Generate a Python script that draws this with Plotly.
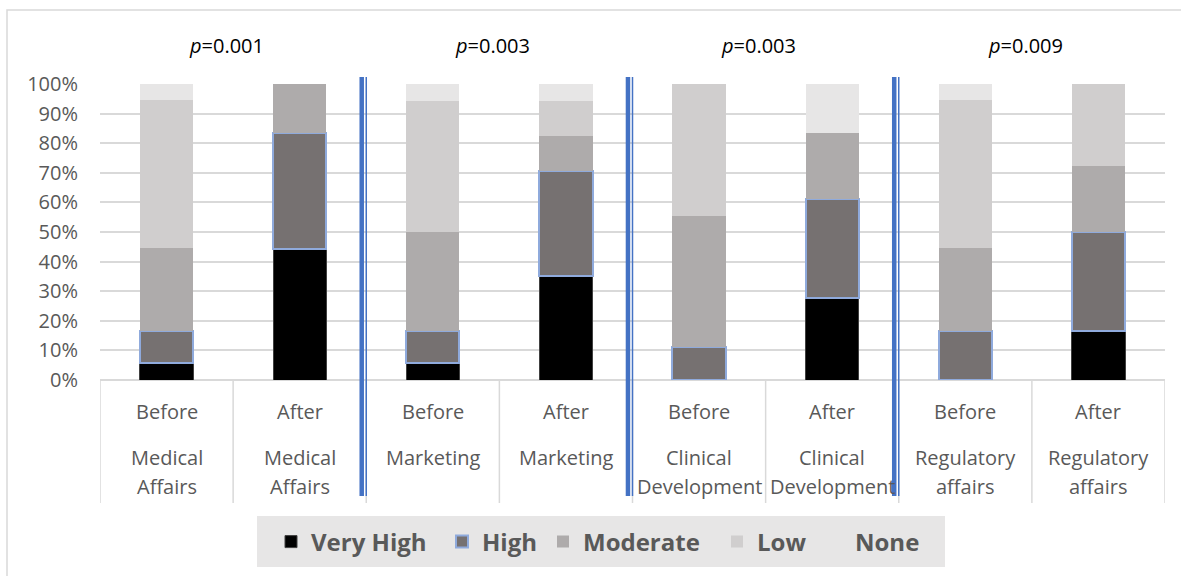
import plotly.graph_objects as go

# Survey responses (% of respondents) per department, before and after
departments = ["Medical Affairs", "Marketing", "Clinical Development", "Regulatory affairs"]
stages = ["Before", "After"]
p_values = ["0.001", "0.003", "0.003", "0.009"]

levels = ["Very High", "High", "Moderate", "Low", "None"]
very_high = [5.6, 44.4, 5.6, 35.3, 0.0, 27.8, 0.0, 16.7]
high = [11.1, 38.9, 11.1, 35.3, 11.1, 33.3, 16.7, 33.3]
moderate = [27.8, 16.7, 33.3, 11.8, 44.4, 22.2, 27.8, 22.2]
low = [50.0, 0.0, 44.4, 11.8, 44.4, 0.0, 50.0, 27.8]
none = [5.6, 0.0, 5.6, 5.9, 0.0, 16.7, 5.6, 0.0]

y_ticks = list(range(0, 101, 10))

W, H = 1181, 576
FONT = "Open Sans"
TEXT_GREY = "#595959"
GRID = "#D9D9D9"
BLUE = "#4472C4"

series = [very_high, high, moderate, low, none]
fills = ["#000000", "#767171", "#AEABAB", "#D0CECE", "#E7E6E6"]
edges = [("#404040", 1), ("#8FAADC", 2), ("#AEABAB", 0), ("#D0CECE", 0), ("#E7E6E6", 0)]
# legend slot width (px) reserved for each entry's label
entry_widths = [126, 56, 129, 53, 64]

n_cat = len(departments) * len(stages)
xs = list(range(n_cat))


def px_x(v):
    return v / W


def px_y(v):
    return 1 - v / H


fig = go.Figure()
for name, vals, col, (lc, lw), ew in zip(levels, series, fills, edges, entry_widths):
    fig.add_trace(go.Bar(
        x=xs, y=vals, name=name, width=0.4,
        marker=dict(color=col, line=dict(color=lc, width=lw)),
        legendwidth=ew,
        hoverinfo="skip",
    ))

plot_left, plot_right = 100, 1165
plot_top, plot_bottom = 84, 380

fig.update_layout(
    width=W, height=H,
    margin=dict(l=0, r=0, t=0, b=0, autoexpand=False),
    paper_bgcolor="white", plot_bgcolor="white",
    barmode="stack",
    font=dict(family=FONT, color=TEXT_GREY),
    xaxis=dict(
        domain=[px_x(plot_left), px_x(plot_right)],
        range=[-0.5, n_cat - 0.5],
        showticklabels=False, showgrid=False, zeroline=False,
        ticks="", fixedrange=True,
    ),
    yaxis=dict(
        domain=[px_y(plot_bottom), px_y(plot_top)],
        range=[0, 100],
        tickvals=y_ticks,
        ticktext=[f"{v}%" for v in y_ticks],
        tickfont=dict(family=FONT, size=20, color=TEXT_GREY),
        showgrid=True, gridcolor=GRID, gridwidth=1.5,
        zeroline=True, zerolinecolor=GRID, zerolinewidth=1.5,
        ticks="", ticklabelstandoff=21, fixedrange=True,
    ),
    legend=dict(
        orientation="h",
        x=px_x(271), xanchor="left",
        y=px_y(542), yanchor="middle",
        bgcolor="rgba(0,0,0,0)",
        font=dict(family=FONT, size=24, color=TEXT_GREY, weight="bold"),
        traceorder="normal",
        itemclick=False, itemdoubleclick=False,
    ),
    showlegend=True,
)

shapes = []
# outer chart frame
shapes.append(dict(type="rect", xref="paper", yref="paper",
                   x0=px_x(7), x1=px_x(W + 20), y0=px_y(H + 20), y1=px_y(10),
                   line=dict(color=GRID, width=1.5), fillcolor="rgba(0,0,0,0)",
                   layer="below"))
# legend background box
shapes.append(dict(type="rect", xref="paper", yref="paper",
                   x0=px_x(257), x1=px_x(945), y0=px_y(567), y1=px_y(516),
                   line=dict(width=0), fillcolor="#E7E6E6", layer="below"))
# category separators in the label band
for i in range(n_cat + 1):
    shapes.append(dict(type="line", xref="x", yref="paper",
                       x0=i - 0.5, x1=i - 0.5, y0=px_y(503), y1=px_y(plot_bottom),
                       line=dict(color=GRID, width=1.5), layer="below"))
# double blue dividers between departments
for g in range(1, len(departments)):
    xb = g * len(stages) - 0.5
    shapes.append(dict(type="line", xref="x", yref="paper",
                       x0=xb - 0.034, x1=xb - 0.034, y0=px_y(496), y1=px_y(77),
                       line=dict(color=BLUE, width=4.5)))
    shapes.append(dict(type="line", xref="x", yref="paper",
                       x0=xb + 0.0, x1=xb + 0.0, y0=px_y(496), y1=px_y(77),
                       line=dict(color=BLUE, width=1.5)))
fig.update_layout(shapes=shapes)

annotations = []
for d, dept in enumerate(departments):
    for s, stage in enumerate(stages):
        xi = d * len(stages) + s
        annotations.append(dict(x=xi, y=px_y(411), xref="x", yref="paper",
                                text=stage, showarrow=False,
                                font=dict(family=FONT, size=20, color=TEXT_GREY),
                                xanchor="center", yanchor="middle"))
        for li, word in enumerate(dept.split(" ")):
            annotations.append(dict(x=xi, y=px_y(457 + 29 * li), xref="x", yref="paper",
                                    text=word, showarrow=False,
                                    font=dict(family=FONT, size=20, color=TEXT_GREY),
                                    xanchor="center", yanchor="middle"))
    annotations.append(dict(x=d * len(stages) + 0.45, y=px_y(45), xref="x", yref="paper",
                            text=f"<i>p</i>={p_values[d]}", showarrow=False,
                            font=dict(family=FONT, size=20, color="#000000"),
                            xanchor="center", yanchor="middle"))
fig.update_layout(annotations=annotations)

fig.write_html("out.html")
